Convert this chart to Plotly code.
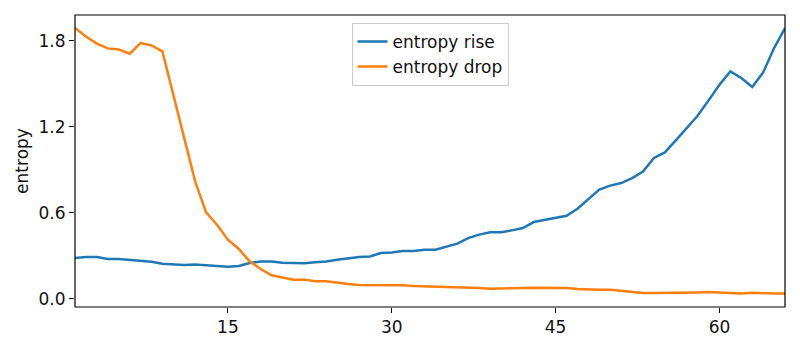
import plotly.graph_objects as go

# step index 1..66
steps = list(range(1, 67))

entropy_rise = [
    0.284, 0.291, 0.291, 0.277, 0.277, 0.272, 0.267, 0.258, 0.244, 0.237,
    0.235, 0.239, 0.235, 0.228, 0.223, 0.228, 0.249, 0.260, 0.260, 0.251,
    0.247, 0.247, 0.254, 0.260, 0.272, 0.284, 0.291, 0.295, 0.319, 0.323,
    0.333, 0.333, 0.342, 0.342, 0.361, 0.384, 0.423, 0.447, 0.463, 0.463,
    0.477, 0.493, 0.535, 0.551, 0.568, 0.579, 0.628, 0.696, 0.761, 0.789,
    0.807, 0.842, 0.888, 0.982, 1.021, 1.105, 1.191, 1.277, 1.384, 1.493,
    1.586, 1.540, 1.477, 1.579, 1.749, 1.889,
]

entropy_drop = [
    1.889, 1.830, 1.780, 1.747, 1.740, 1.710, 1.784, 1.768, 1.726, 1.420,
    1.133, 0.819, 0.602, 0.516, 0.412, 0.347, 0.260, 0.207, 0.163, 0.149,
    0.133, 0.133, 0.121, 0.121, 0.109, 0.102, 0.095, 0.095, 0.093, 0.098,
    0.093, 0.088, 0.086, 0.084, 0.084, 0.081, 0.077, 0.074, 0.070, 0.070,
    0.072, 0.074, 0.077, 0.077, 0.077, 0.074, 0.067, 0.063, 0.063, 0.063,
    0.056, 0.047, 0.040, 0.040, 0.040, 0.040, 0.040, 0.044, 0.046, 0.044,
    0.040, 0.037, 0.042, 0.038, 0.036, 0.036,
]

y_ticks = [0.0, 0.6, 1.2, 1.8]
x_ticks = [15, 30, 45, 60]

fig = go.Figure()
fig.add_trace(go.Scatter(x=steps, y=entropy_rise, mode='lines', name='entropy rise',
                         line=dict(color='#1f77b4', width=2.5)))
fig.add_trace(go.Scatter(x=steps, y=entropy_drop, mode='lines', name='entropy drop',
                         line=dict(color='#ff7f0e', width=2.5)))

axis_style = dict(showgrid=False, zeroline=False, showline=False,
                  ticks='outside', ticklen=5, tickwidth=1,
                  tickcolor='black', tickfont=dict(size=17, color='#111'))

fig.update_xaxes(range=[1, 66], tickvals=x_ticks, **axis_style)
fig.update_yaxes(range=[-0.058, 1.98], tickvals=y_ticks,
                 ticktext=['%.1f' % v for v in y_ticks],
                 title=dict(text='entropy', font=dict(size=17, color='#111'), standoff=5),
                 **axis_style)

# axes frame (matplotlib style box)
fig.add_shape(type='rect', xref='x domain', yref='y domain', x0=0, x1=1, y0=0, y1=1,
              line=dict(color='black', width=1.2), layer='above')

fig.update_layout(width=800, height=350,
                  margin=dict(l=75, r=15, t=15, b=43),
                  paper_bgcolor='white', plot_bgcolor='white',
                  font=dict(family='DejaVu Sans', size=17, color='#111'),
                  legend=dict(x=0.5, xanchor='center', y=0.973, yanchor='top',
                              bgcolor='rgba(255,255,255,0.8)', bordercolor='#cccccc',
                              borderwidth=1, font=dict(size=17)))

fig.write_html("out.html", config={'displayModeBar': False},
               post_script="document.body.style.margin='0';")
